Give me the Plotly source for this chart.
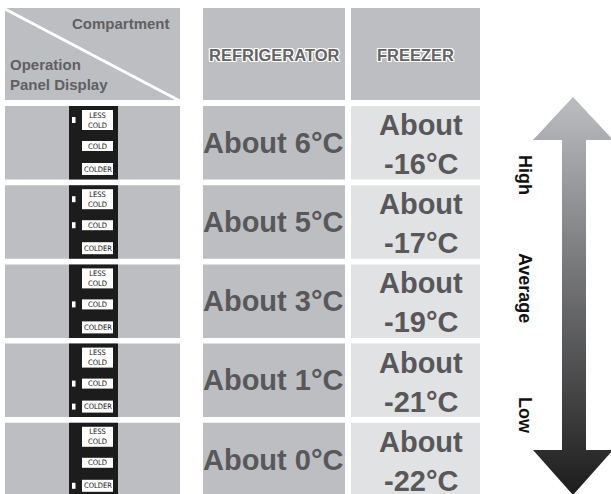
import plotly.graph_objects as go

# table content
columns = ['REFRIGERATOR', 'FREEZER']
fridge_temps = [6, 5, 3, 1, 0]
freezer_temps = [-16, -17, -19, -21, -22]
panel_buttons = ['LESS<br>COLD', 'COLD', 'COLDER']
lit_lamps = [[1, 0, 0],
             [1, 1, 0],
             [0, 1, 0],
             [0, 1, 1],
             [0, 0, 1]]
levels = ['High', 'Average', 'Low']

W, H = 611, 494
FONT = 'Liberation Sans, Arial, Helvetica, sans-serif'
NARROW = 'DejaVu Sans Condensed, Liberation Sans Narrow, sans-serif'
CELL = '#bdbec2'
LIGHT = '#e1e2e4'
TEXT = '#58585a'

ROW_TOP, ROW_PITCH, ROW_H = 106, 79.2, 73.5
# x extents of the columns
LEFT = (5, 180)
STRIP = (69, 118)
FRIDGE = (203, 345)
FREEZER = (351, 480)

shapes = []
annotations = []


def rect(x0, y0, x1, y1, color):
  shapes.append(dict(type='rect', x0=x0, y0=y0, x1=x1, y1=y1, xref='x', yref='y',
                     fillcolor=color, line=dict(width=0), layer='below'))


def label(x, y, text, size, color=TEXT, bold=True, family=FONT, **kw):
  annotations.append(dict(x=x, y=y, xref='x', yref='y', text=text, showarrow=False,
                          font=dict(family=family, size=size, color=color,
                                    weight='bold' if bold else 'normal',
                                    shadow=kw.pop('shadow', 'none')),
                          **kw))


# header row
rect(LEFT[0], 8, LEFT[1], 100, CELL)
shapes.append(dict(type='line', x0=5, y0=9, x1=180, y1=101, xref='x', yref='y',
                   line=dict(color='white', width=3)))
label(172, 23, 'Compartment', 15, color='#606060', xanchor='right')
label(8, 64, 'Operation', 15, color='#606060', xanchor='left')
label(8, 84, 'Panel Display', 15, color='#606060', xanchor='left')

outline = '1px 0 0 #fff, -1px 0 0 #fff, 0 1px 0 #fff, 0 -1px 0 #fff, 1px 1px 0 #fff, -1px -1px 0 #fff, 1px -1px 0 #fff, -1px 1px 0 #fff'
for name, (x0, x1) in zip(columns, [FRIDGE, FREEZER]):
  rect(x0, 8, x1, 100, CELL)
  label((x0 + x1) / 2, 55, name, 16.5, color='#646464', shadow=outline)

# button boxes inside the black strip: (top, bottom) offsets from row top
box_y = [(4, 24), (35, 45), (57, 69)]

for i, (ft, zt, lamps) in enumerate(zip(fridge_temps, freezer_temps, lit_lamps)):
  top = ROW_TOP + i * ROW_PITCH
  bot = top + ROW_H
  rect(LEFT[0], top, LEFT[1], bot, CELL)
  rect(STRIP[0], top, STRIP[1], bot, '#1c1c1c')
  rect(FRIDGE[0], top, FRIDGE[1], bot, CELL)
  rect(FREEZER[0], top, FREEZER[1], bot, LIGHT)

  for btn, lit, (b0, b1) in zip(panel_buttons, lamps, box_y):
    rect(82, top + b0, 113, top + b1, 'white')
    label(97.5, top + (b0 + b1) / 2, btn, 7.5, color='#111111', bold=False, family=NARROW)
    if lit:
      cy = top + (b0 + b1) / 2
      rect(72, cy - 3, 75.5, cy + 3, 'white')

  label(273, top + ROW_H / 2, f'About {ft}°C', 29)
  label(421, top + 19, 'About', 29)
  label(421, top + 58, f'{zt}°C', 29)

# gradient arrow
ax = [573, 533, 562, 562, 533, 573, 613, 586, 586, 613, 573]
ay = [97, 140, 140, 450, 450, 495, 450, 450, 140, 140, 97]
fig = go.Figure()
fig.add_trace(go.Scatter(
  x=ax, y=ay, mode='lines', fill='toself', line=dict(width=0, color='rgba(0,0,0,0)'),
  fillgradient=dict(type='vertical', start=97, stop=495,
                    colorscale=[[0, '#bcbdc1'], [1, '#1c1c1c']]),
  hoverinfo='skip', showlegend=False))

for name, y in zip(levels, [175, 288, 415]):
  label(525, y, name, 18, color='#111111', textangle=90)

fig.update_layout(
  width=W, height=H,
  margin=dict(l=0, r=0, t=0, b=0),
  paper_bgcolor='white', plot_bgcolor='white',
  xaxis=dict(range=[0, W], visible=False, fixedrange=True),
  yaxis=dict(range=[H, 0], visible=False, fixedrange=True),
  shapes=shapes, annotations=annotations,
  showlegend=False
)

fig.write_html('out.html', config={'displayModeBar': False},
               post_script="document.body.style.margin = '0px';")
